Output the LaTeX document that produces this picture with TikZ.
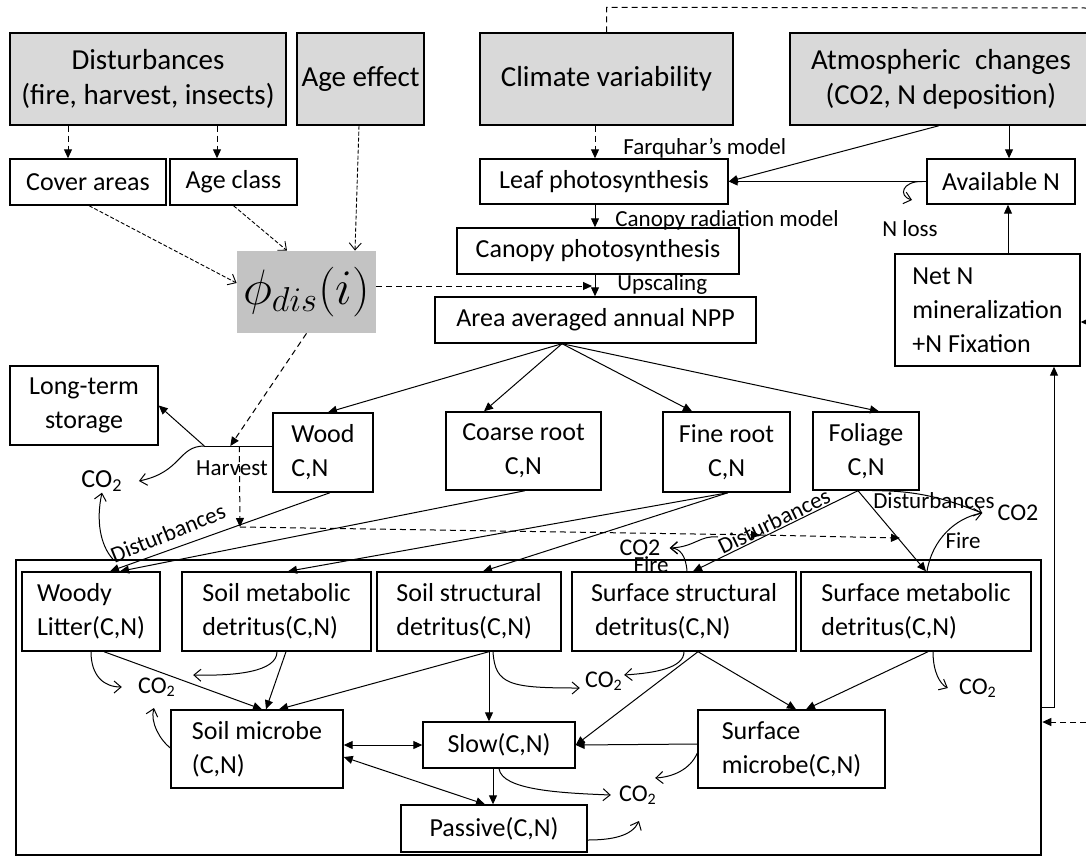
\documentclass[tikz,border=0pt]{standalone}
\usepackage{fontspec}
\setmainfont{Carlito}
\usepackage{xcolor}
\usepackage{tikz}
\usetikzlibrary{arrows.meta,calc}

\definecolor{topgray}{HTML}{D9D9D9}
\definecolor{phigray}{HTML}{C3C3C3}

\tikzset{
  box/.style={draw, line width=0.7pt, inner sep=0pt, align=center, font=\fontsize{13}{17}\selectfont},
  topbox/.style={box, fill=topgray, font=\fontsize{14.5}{17.5}\selectfont},
  lbl/.style={inner sep=0.5pt, font=\fontsize{11.5}{13}\selectfont},
  cotwo/.style={inner sep=0.5pt, font=\fontsize{12}{14}\selectfont},
  arr/.style={line width=0.5pt, -{Triangle[length=4.5pt,width=4pt]}},
  dbl/.style={line width=0.5pt, {Triangle[length=4.5pt,width=4pt]}-{Triangle[length=4.5pt,width=4pt]}},
  dsh/.style={arr, dash pattern=on 3pt off 2pt},
  dotarr/.style={line width=0.45pt, dash pattern=on 2pt off 1pt, -{Straight Barb[length=3.5pt,width=6pt]}},
  opn/.style={line width=0.5pt, -{Straight Barb[length=3.5pt,width=6pt]}},
}

\begin{document}
\begin{tikzpicture}[x=0.5pt,y=-0.5pt]
\useasboundingbox (0,0) rectangle (1086,857);
\clip (0,0) rectangle (1086,857);

% drivers
\node[topbox, minimum width=138pt, minimum height=46pt] (dist) at (148,79) {Disturbances\\(fire, harvest, insects)};
\node[topbox, minimum width=63.5pt, minimum height=46pt] (age) at (360.5,79) {Age effect};
\node[topbox, minimum width=126.5pt, minimum height=46pt] (clim) at (606.5,79) {Climate variability};
\node[topbox, minimum width=151pt, minimum height=46pt] (atmo) at (941,79) {Atmospheric\enspace changes\\(CO2, N deposition)};

\node[box, minimum width=78pt, minimum height=23pt] (cover) at (88,182) {Cover areas};
\node[box, minimum width=63.5pt, minimum height=23pt] (agecl) at (233.5,182) {Age class};
\node[box, minimum width=124pt, minimum height=22.5pt] (leaf) at (604,181.5) {Leaf photosynthesis};
\node[box, minimum width=74pt, minimum height=22.5pt] (availn) at (1001,181.5) {Available N};
\node[box, minimum width=141pt, minimum height=23pt] (canopy) at (598,251) {Canopy photosynthesis};
\node[fill=phigray, inner sep=0pt, minimum width=69.5pt, minimum height=41pt, font=\fontsize{24}{28}\selectfont] (phi) at (306.5,292) {$\phi_{dis}(i)$};
\node[box, minimum width=160.5pt, minimum height=23pt] (npp) at (595.5,320) {Area averaged annual NPP};
\node[box, align=left, minimum width=92.5pt, minimum height=56pt] (netn) at (987.5,310) {Net N\\mineralization\\+N Fixation};

% vegetation pools
\node[box, minimum width=74pt, minimum height=39.5pt] (lts) at (84,405.5) {Long-term\\storage};
\node[box, align=left, minimum width=50pt, minimum height=39.5pt] (wood) at (323,452.5) {Wood\\C,N};
\node[box, minimum width=77.5pt, minimum height=39pt] (coarse) at (523.5,451) {Coarse root\\C,N};
\node[box, minimum width=63.5pt, minimum height=40pt] (fine) at (726.5,452) {Fine root\\C,N};
\node[box, minimum width=53pt, minimum height=39pt] (fol) at (866,451) {Foliage\\C,N};

% soil pools
\node[draw, line width=1.3pt, inner sep=0pt, minimum width=512.5pt, minimum height=147.5pt] (soil) at (528.5,707.5) {};
\node[box, align=left, minimum width=69pt, minimum height=39.5pt] (woody) at (91,611.5) {Woody\\Litter(C,N)};
\node[box, align=left, minimum width=94.5pt, minimum height=39.5pt] (smet) at (276.5,611.5) {Soil metabolic\\detritus(C,N)};
\node[box, align=left, minimum width=92pt, minimum height=39.5pt] (sstr) at (469,611.5) {Soil structural\\detritus(C,N)};
\node[box, align=left, minimum width=112pt, minimum height=39.5pt] (fstr) at (684,611.5) {Surface structural\\\hspace{2pt}detritus(C,N)};
\node[box, align=left, minimum width=115pt, minimum height=39.5pt] (fmet) at (916,611.5) {Surface metabolic\\detritus(C,N)};
\node[box, align=left, minimum width=86pt, minimum height=39pt] (smic) at (257,749) {Soil microbe\\(C,N)};
\node[box, minimum width=76pt, minimum height=23pt] (slow) at (499,745) {Slow(C,N)};
\node[box, align=left, minimum width=93.5pt, minimum height=39pt] (smicr) at (791.5,749) {Surface\\microbe(C,N)};
\node[box, minimum width=93pt, minimum height=23.5pt] (pass) at (494,828.5) {Passive(C,N)};

% labels
\node[lbl, anchor=west] (farq) at (622,148) {Farquhar’s model};
\node[lbl, anchor=west] (canrad) at (614,220) {Canopy radiation model};
\node[lbl, anchor=west] (upsc) at (616,284) {Upscaling};
\node[lbl] (nloss) at (910,229) {N loss};
\node[lbl] (harv) at (232,468) {Harvest};
\node[cotwo, font=\fontsize{13}{15}\selectfont] (co2a) at (102,481) {CO\textsubscript{2}};
\node[lbl, rotate=22] (disL) at (168,533) {Disturbances};
\node[lbl] (disR) at (934,501) {Disturbances};
\node[lbl] (fireR) at (963,541) {Fire};
\node[cotwo] (co2b) at (1018,513) {CO2};
\node[lbl, rotate=26] (disM) at (774,521) {Disturbances};
\node[cotwo] (co2c) at (640,548) {CO2};
\node[lbl] (fireL) at (651,565) {Fire};
\node[cotwo] (co2d) at (157,687) {CO\textsubscript{2}};
\node[cotwo] (co2e) at (604,681) {CO\textsubscript{2}};
\node[cotwo] (co2f) at (978,688) {CO\textsubscript{2}};
\node[cotwo] (co2g) at (638,795) {CO\textsubscript{2}};

% drivers -> model
\draw[dsh] ($(dist.south)+(-80,0)$) -- ($(cover.north)+(-20,0)$);
\draw[dsh] ($(dist.south)+(69,0)$) -- ($(agecl.north)+(-16.5,0)$);
\draw[dotarr] ($(age.south)+(-1.5,0)$) -- ($(phi.north)+(48.5,0)$);
\draw[dotarr] ($(cover.south)+(1,0)$) -- ($(phi.west)+(0,-9)$);
\draw[dotarr] (agecl.south) -- ($(phi.north)+(-19.5,0)$);
\draw[dsh] ($(clim.south)+(-11.5,0)$) -- ($(leaf.north)+(-9,0)$);
\coordinate (topr) at (1086,8);
\draw[line width=0.5pt, dash pattern=on 3pt off 2pt] (clim.north) -- ++(0,-25) -- (topr);
\draw[arr] ($(atmo.south)+(-2,0)$) -- (leaf.east);
\draw[arr] ($(atmo.south)+(68,0)$) -- ($(availn.north)+(8,0)$);
\draw[arr] (availn.west) -- (leaf.east);
\coordinate (nl) at (912,200);
\draw[opn] ($(availn.west)+(-4,0)$) .. controls (902,181) and (898,196) .. (nl);
\draw[arr] ($(leaf.south)+(-9,0)$) -- ($(canopy.north)+(-3,0)$);
\draw[arr] ($(canopy.south)+(-3,0)$) -- ($(npp.north)+(-0.5,0)$);
\coordinate (up) at (592,286);
\draw[dsh] ($(phi.east)+(0,-6)$) -- (up);
\draw[arr] ($(netn.north)+(20.5,0)$) -- ($(availn.south)+(7,0)$);
\coordinate (rin1) at (1086,322);
\draw[arr] (rin1) -- ($(netn.east)+(0,12)$);

% allocation of NPP
\coordinate (n0) at ($(npp.south)+(-33.5,0)$);
\draw[arr] (n0) -- ($(wood.north)+(5,0)$);
\draw[arr] (n0) -- ($(coarse.north)+(-39.5,0)$);
\draw[arr] (n0) -- ($(fine.north)+(-34.5,0)$);
\draw[arr] (n0) -- ($(fol.north)+(13,0)$);

% harvest
\coordinate (hv) at ($(wood.west)+(-68,-6.5)$);
\draw[line width=0.5pt] ($(wood.west)+(0,-6.5)$) -- (hv);
\draw[arr] (hv) -- (lts.east);
\draw[opn] (hv) .. controls (178,446) and (182,472) .. ($(co2a.east)+(15,0)$);
\draw[dsh] (phi.south) -- ($(hv)+(26,0)$);
\coordinate (dj) at (240,527);
\coordinate (dm) at (760,535);
\coordinate (dr) at (900,538);
\draw[dsh] ($(hv)+(35,0)$) -- (dj);
\draw[dsh] (dj) -- (dm);
\draw[dsh] (dm) -- (dr);

% litterfall
\draw[arr] ($(wood.south)+(7,0)$) -- ($(woody.north)+(19,0)$);
\draw[arr] ($(coarse.south)+(1.5,0)$) -- ($(woody.north)+(29,0)$);
\draw[arr] ($(fine.south)+(1.5,0)$) -- ($(smet.north)+(11.5,0)$);
\draw[arr] ($(fine.south)+(1.5,0)$) -- ($(sstr.north)+(14,0)$);
\draw[arr] ($(fol.south)+(-8,0)$) -- ($(fstr.north)+(9,0)$);
\draw[arr] ($(fol.south)+(-8,0)$) -- ($(fmet.north)+(10,0)$);

% disturbance losses
\draw[opn] ($(woody.north)+(22,-12)$) .. controls (100,545) and (96,520) .. (co2a.south);
\draw[opn] ($(fol.south)+(6,0)$) .. controls (925,490) and (955,503) .. ($(co2b.west)+(-14,0)$);
\draw[opn] ($(fmet.north)+(11,0)$) .. controls (932,540) and (955,518) .. ($(co2b.west)+(-14,0)$);
\draw[opn] ($(fstr.north)+(3,0)$) .. controls (686,556) and (680,548) .. ($(co2c.east)+(8,0)$);
\coordinate (dsrc) at (718,537);
\draw[opn] (dsrc) .. controls (700,535) and (695,547) .. ($(co2c.east)+(8,0)$);

% decomposition
\draw[arr] ($(woody.south)+(13,0)$) -- ($(smic.north)+(5,0)$);
\draw[opn] (woody.south) .. controls (91,676) and (104,687) .. ($(co2d.west)+(-15,0)$);
\draw[opn] ($(smet.south)+(0.5,0)$) .. controls (277,672) and (235,676) .. ($(co2d.east)+(16,-12)$);
\draw[arr] ($(smet.south)+(9.5,0)$) -- ($(smic.north)+(9,0)$);
\draw[arr] ($(sstr.south)+(20,0)$) -- ($(smic.north)+(22,0)$);
\draw[arr] ($(sstr.south)+(20,0)$) -- ($(slow.north)+(-10,0)$);
\draw[opn] ($(sstr.south)+(24,0)$) .. controls (495,685) and (510,688) .. ($(co2e.west)+(-4,7)$);
\draw[opn] (fstr.south) .. controls (684,668) and (655,673) .. ($(co2e.east)+(0,-6)$);
\draw[arr] ($(fstr.south)+(14,0)$) -- ($(smicr.north)+(4.5,0)$);
\draw[arr] ($(fstr.south)+(14,0)$) -- (slow.east);
\draw[arr] ($(fmet.south)+(12,0)$) -- ($(smicr.north)+(14.5,0)$);
\draw[opn] ($(fmet.south)+(17,0)$) .. controls (933,672) and (940,684) .. ($(co2f.west)+(-10,0)$);
\draw[opn] ($(smic.west)+(0,-1)$) .. controls (160,740) and (150,722) .. ($(co2d.south)+(-3,10)$);
\draw[dbl] ($(smic.east)+(0,-4)$) -- (slow.west);
\draw[dbl] ($(smic.east)+(0,8)$) -- ($(pass.north)+(-9,0)$);
\draw[arr] ($(slow.south)+(-6,0)$) -- ($(pass.north)+(-1,0)$);
\draw[opn] (slow.south) .. controls (502,790) and (560,793) .. ($(co2g.west)+(-7,0)$);
\draw[opn] ($(pass.east)+(0,11.5)$) .. controls (612,840) and (632,836) .. ($(co2g.south)+(1,15)$);
\draw[opn] ($(smicr.west)+(0,4)$) .. controls (690,770) and (672,777) .. ($(co2g.east)+(-3,-17)$);
\draw[arr] ($(smicr.west)+(0,-5)$) -- (slow.east);

% N feedback
\draw[arr] (soil.east) -| ($(netn.south)+(66.5,0)$);
\coordinate (rin2) at (1086,722);
\draw[dsh] (rin2) -- ($(soil.east)+(0,14.5)$);
\end{tikzpicture}
\end{document}
